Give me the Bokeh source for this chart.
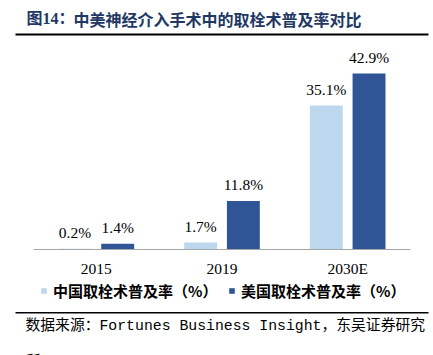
from bokeh.plotting import figure
from bokeh.layouts import column
from bokeh.models import (ColumnDataSource, Range1d, Label, LabelSet, FixedTicker,
                          Legend, LegendItem, BoxAnnotation)
from bokeh.transform import dodge
from bokeh.embed import file_html
from bokeh.resources import INLINE

# ---- data ----
years = ["2015", "2019", "2030E"]
china_rate = [0.2, 1.7, 35.1]
us_rate = [1.4, 11.8, 42.9]
china_name = "中国取栓术普及率（%）"
us_name = "美国取栓术普及率（%）"
title_head = "图14："
title_body = "中美神经介入手术中的取栓术普及率对比"
source_text = "数据来源：Fortunes Business Insight，东吴证券研究"
source_text2 = "所"

LIGHT = "#BDD7EE"
DARK = "#2F5597"
NAVY = "#1F3864"
SERIF = "Liberation Serif"
CJK = "Noto Sans CJK SC"
W = 433


def blank(height, ymax):
    f = figure(width=W, height=height, x_range=Range1d(0, W), y_range=Range1d(ymax, 0),
               output_backend="svg", toolbar_location=None,
               x_axis_type=None, y_axis_type=None, min_border=0)
    f.title.visible = False
    f.outline_line_color = None
    f.xgrid.visible = False
    f.ygrid.visible = False
    f.background_fill_color = "white"
    f.border_fill_color = "white"
    return f


# ---- title strip ----
top = blank(40, 40)
top.add_layout(Label(x=26, y=18, text=title_head,
                     text_font=f"{SERIF}, {CJK}", text_font_size="16px",
                     text_font_style="bold", text_color=NAVY,
                     text_baseline="middle", text_align="left"))
top.add_layout(Label(x=73, y=18, text=title_body,
                     text_font=CJK, text_font_size="16px",
                     text_font_style="bold", text_color=NAVY,
                     text_baseline="middle", text_align="left"))
top.add_layout(BoxAnnotation(left=15, right=428, top=33, bottom=35,
                             fill_color="#000000", fill_alpha=1, line_color=None))

# ---- main chart ----
n = len(years)
pos = [i + 0.5 for i in range(n)]  # category centres on the x scale
src = ColumnDataSource(dict(
    x=pos,
    year=years,
    china=china_rate,
    us=us_rate,
    china_lbl=[f"{v:.1f}%" for v in china_rate],
    us_lbl=[f"{v:.1f}%" for v in us_rate],
))

p = figure(x_range=Range1d(-0.2626, n + 0.1830), y_range=Range1d(0, 48.54),
           width=W, height=240, output_backend="svg", toolbar_location=None,
           min_border_left=0, min_border_right=0, min_border_top=10,
           min_border_bottom=31)
p.title.visible = False
p.outline_line_color = None
p.background_fill_color = "white"
p.border_fill_color = "white"
p.xgrid.visible = False
p.ygrid.visible = False
p.yaxis.visible = False

off = 0.17
bw = 0.262
r1 = p.vbar(x=dodge("x", -off), top="china", width=bw,
            source=src, fill_color=LIGHT, line_color=None)
r2 = p.vbar(x=dodge("x", off), top="us", width=bw,
            source=src, fill_color=DARK, line_color=None)

for col, lbl, o in (("china", "china_lbl", -off), ("us", "us_lbl", off)):
    p.add_layout(LabelSet(x=dodge("x", o), y=col, text=lbl,
                          source=src, text_align="center",
                          text_baseline="alphabetic", y_offset=11,
                          text_font=SERIF, text_font_size="15.5px",
                          text_color="#000000"))

ax = p.xaxis[0]
ax.ticker = FixedTicker(ticks=pos)
ax.major_label_overrides = {x: y for x, y in zip(pos, years)}
ax.bounds = (0, n)
ax.axis_line_color = "#A6A6A6"
ax.axis_line_width = 1
ax.major_tick_line_color = None
ax.minor_tick_line_color = None
ax.major_tick_out = 0
ax.major_label_standoff = 10
ax.major_label_text_font = SERIF
ax.major_label_text_font_size = "15.5px"
ax.major_label_text_color = "#000000"

# ---- legend + source strip ----
bot = blank(75, 75)
key_src = ColumnDataSource(dict(x=[-1000], top=[0]))
k1 = bot.vbar(x="x", top="top", width=1, source=key_src, fill_color=LIGHT, line_color=None)
k2 = bot.vbar(x="x", top="top", width=1, source=key_src, fill_color=DARK, line_color=None)
for r, name, x in ((k1, china_name, 40), (k2, us_name, 228)):
    leg = Legend(items=[LegendItem(label=name, renderers=[r])], location=(x, 54.5),
                 orientation="horizontal", glyph_width=7, glyph_height=7,
                 label_standoff=6, padding=0, margin=0, spacing=0,
                 border_line_color=None, background_fill_alpha=0,
                 label_text_font=CJK, label_text_font_size="15px",
                 label_text_font_style="bold", label_text_color="#000000")
    bot.add_layout(leg)
bot.add_layout(BoxAnnotation(left=15, right=428, top=31.5, bottom=33,
                             fill_color="#000000", fill_alpha=1, line_color=None))
bot.add_layout(Label(x=25, y=45, text=source_text,
                     text_font=f"Liberation Mono, {CJK}", text_font_size="14.8px",
                     text_color="#000000", text_baseline="middle", text_align="left"))
bot.add_layout(Label(x=25, y=78.5, text=source_text2,
                     text_font=CJK, text_font_size="15px",
                     text_color="#000000", text_baseline="middle", text_align="left"))

layout = column(top, p, bot, spacing=0)
open("out.html", "w").write(file_html(layout, INLINE))
